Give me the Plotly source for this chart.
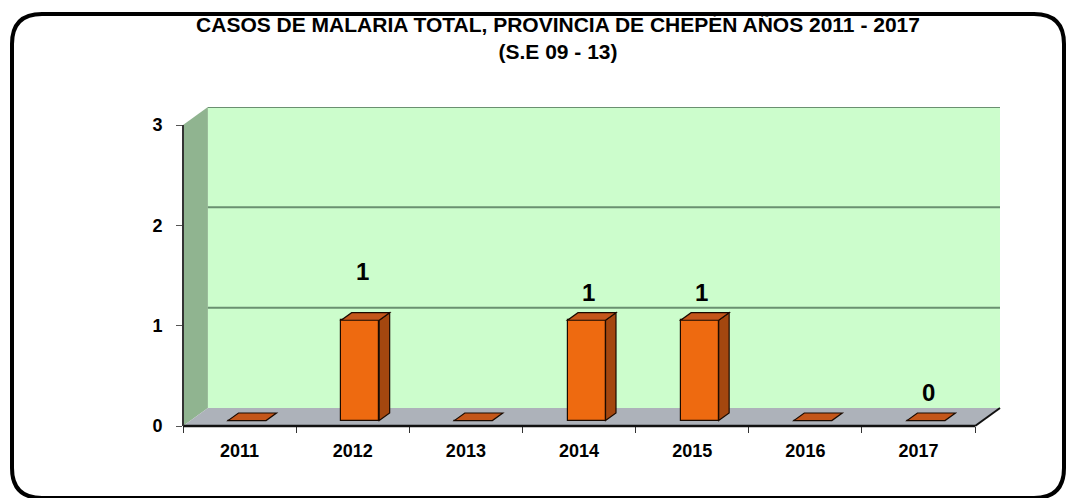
import plotly.graph_objects as go

# ---------------- data ----------------
years = ["2011", "2012", "2013", "2014", "2015", "2016", "2017"]
casos = [0, 1, 0, 1, 1, 0, 0]
etiquetas = ["", "1", "", "1", "1", "", "0"]
title_line1 = "CASOS DE MALARIA TOTAL, PROVINCIA DE CHEPÉN AÑOS 2011 - 2017"
title_line2 = "(S.E 09 - 13)"
y_ticks = [0, 1, 2, 3]

# ---------------- style ----------------
FONT = "Liberation Sans, Arial, sans-serif"
W, H = 1068, 498
DX, DY = 0.22, 0.18          # wall depth in axis units
BAR_W = 0.336
F1, F2 = 0.30, 0.72          # bar front/back depth fractions
YMAX = 3
n = len(years)
XR = [0, n + DX]
YR = [0, YMAX + DY]
ML, MR, MT, MB = 183, 68, 107, 72
PL, PR, PT, PB = ML, W - MR, MT, H - MB

def px_x(p):
    return (p - PL) / (PR - PL)

def px_y(p):
    return (PB - p) / (PB - PT)

def poly(pts):
    return "M " + " L ".join(f"{x},{y}" for x, y in pts) + " Z"

shapes = []
# back wall
shapes.append(dict(type="path", xref="x", yref="y", layer="below",
                   path=poly([(DX, DY), (n + DX, DY), (n + DX, YMAX + DY), (DX, YMAX + DY)]),
                   fillcolor="#CCFDCC", line=dict(width=0)))
# left wall
shapes.append(dict(type="path", xref="x", yref="y", layer="below",
                   path=poly([(0, 0), (DX, DY), (DX, YMAX + DY), (0, YMAX)]),
                   fillcolor="#90B490", line=dict(width=0)))
# floor
shapes.append(dict(type="path", xref="x", yref="y", layer="below",
                   path=poly([(0, 0), (n, 0), (n + DX, DY), (DX, DY)]),
                   fillcolor="#ADB2BA", line=dict(width=0)))
# gridlines on back wall
for t in y_ticks[1:]:
    shapes.append(dict(type="line", xref="x", yref="y", layer="below",
                       x0=DX, x1=n + DX, y0=t + DY, y1=t + DY,
                       line=dict(color="#6A9070", width=2)))
# front floor edges
shapes.append(dict(type="line", xref="paper", yref="paper",
                   x0=0, x1=n / XR[1], y0=0, y1=0,
                   line=dict(color="#111111", width=2.5)))
shapes.append(dict(type="line", xref="paper", yref="paper",
                   x0=n / XR[1], x1=1, y0=0, y1=DY / YR[1],
                   line=dict(color="#111111", width=2)))
# y axis line
shapes.append(dict(type="line", xref="paper", yref="paper",
                   x0=0, x1=0, y0=0, y1=YMAX / YR[1],
                   line=dict(color="#333333", width=2)))

# bar side/top faces
bar_x = []
bar_base = []
for i, v in enumerate(casos):
    c = i + 0.5
    xl = c - BAR_W / 2
    xr = c + BAR_W / 2
    bar_x.append(c + F1 * DX)
    bar_base.append(F1 * DY)
    if v > 0:
        shapes.append(dict(type="path", xref="x", yref="y",
                           path=poly([(xr + F1 * DX, F1 * DY), (xr + F2 * DX, F2 * DY),
                                      (xr + F2 * DX, v + F2 * DY), (xr + F1 * DX, v + F1 * DY)]),
                           fillcolor="#A4470F", line=dict(color="#1a0a00", width=1.2)))
    shapes.append(dict(type="path", xref="x", yref="y",
                       path=poly([(xl + F1 * DX, v + F1 * DY), (xr + F1 * DX, v + F1 * DY),
                                  (xr + F2 * DX, v + F2 * DY), (xl + F2 * DX, v + F2 * DY)]),
                       fillcolor="#C4561A", line=dict(color="#1a0a00", width=1.2)))

# outer rounded frame
fx0, fx1, fy0, fy1, r = 12, 1064, 14, 498, 30
frame = (f"M {px_x(fx0 + r)},{px_y(fy0)} L {px_x(fx1 - r)},{px_y(fy0)} "
         f"Q {px_x(fx1)},{px_y(fy0)} {px_x(fx1)},{px_y(fy0 + r)} "
         f"L {px_x(fx1)},{px_y(fy1 - r)} Q {px_x(fx1)},{px_y(fy1)} {px_x(fx1 - r)},{px_y(fy1)} "
         f"L {px_x(fx0 + r)},{px_y(fy1)} Q {px_x(fx0)},{px_y(fy1)} {px_x(fx0)},{px_y(fy1 - r)} "
         f"L {px_x(fx0)},{px_y(fy0 + r)} Q {px_x(fx0)},{px_y(fy0)} {px_x(fx0 + r)},{px_y(fy0)} Z")
shapes.append(dict(type="path", xref="paper", yref="paper", path=frame,
                   line=dict(color="#000000", width=4), fillcolor="rgba(0,0,0,0)"))

fig = go.Figure()
fig.add_trace(go.Bar(x=bar_x, y=casos, base=bar_base, width=BAR_W,
                     marker=dict(color="#EE6A10", line=dict(color="#1a0a00", width=1.2)),
                     hoverinfo="skip", showlegend=False))

annotations = []
label_lift = {"2012": 0.54}
for i, (v, t) in enumerate(zip(casos, etiquetas)):
    if not t:
        continue
    annotations.append(dict(x=i + 0.5 + F1 * DX + 0.02, y=v + label_lift.get(years[i], 0.33),
                            xref="x", yref="y", text=f"<b>{t}</b>", showarrow=False,
                            font=dict(family=FONT, size=24, color="#000000"),
                            xanchor="center", yanchor="middle"))

fig.update_layout(
    width=W, height=H,
    margin=dict(l=ML, r=MR, t=MT, b=MB),
    paper_bgcolor="#ffffff", plot_bgcolor="rgba(0,0,0,0)",
    title=dict(text=f"<b>{title_line1}<br>{title_line2}</b>", x=558 / W, xanchor="center",
               xref="container", y=1 - 32 / H, yref="container", yanchor="top",
               font=dict(family=FONT, size=21, color="#000000")),
    shapes=shapes, annotations=annotations,
    bargap=0,
    xaxis=dict(range=XR, showgrid=False, zeroline=False, showline=False,
               tickmode="array", tickvals=[i + 0.5 for i in range(n)],
               ticktext=[f"<b>{y}</b>" for y in years], ticks="",
               tickfont=dict(family=FONT, size=18, color="#000000"),
               ticklabelstandoff=12,
               minor=dict(tickmode="array", tickvals=list(range(n + 1)), ticks="outside",
                          ticklen=6, tickcolor="#333333", tickwidth=1, showgrid=False),
               fixedrange=True),
    yaxis=dict(range=YR, showgrid=False, zeroline=False, showline=False,
               tickmode="array", tickvals=y_ticks, ticktext=[f"<b>{t}</b>" for t in y_ticks],
               ticks="outside", ticklen=6, tickcolor="#555555", tickwidth=1,
               tickfont=dict(family=FONT, size=18, color="#000000"),
               ticklabelstandoff=10, fixedrange=True),
)

fig.write_html("out.html", config={"displayModeBar": False},
               post_script="document.body.style.margin='0';document.body.style.overflow='hidden';")
